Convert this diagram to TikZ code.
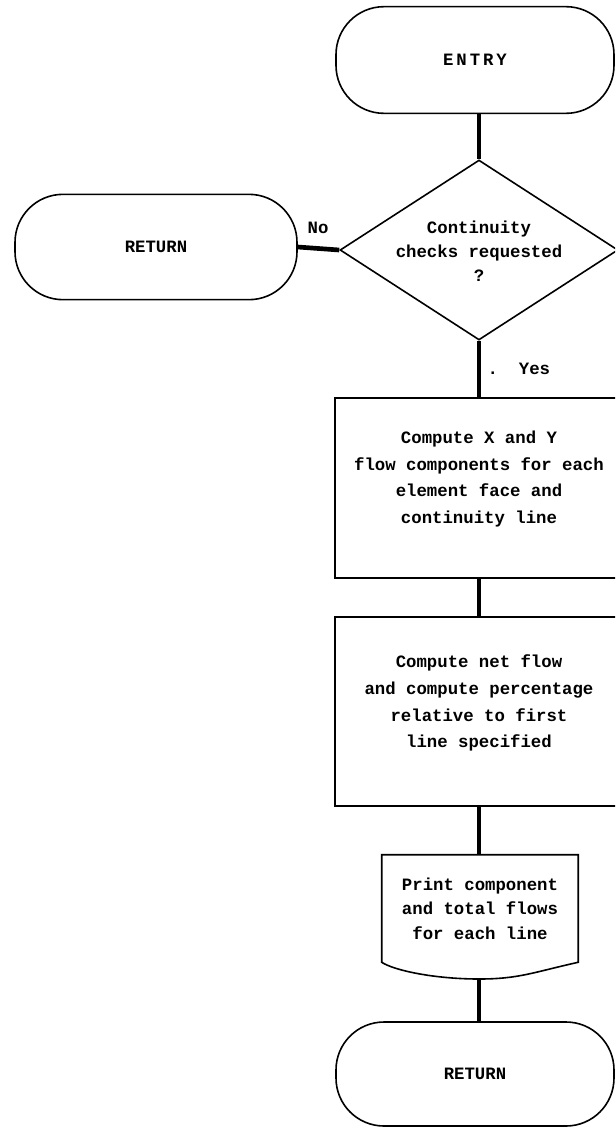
\documentclass[tikz,border=0pt]{standalone}
\usepackage{fontspec}
\setmonofont{Liberation Mono}
\usetikzlibrary{shapes.geometric}
\begin{document}
\begin{tikzpicture}[x=0.75pt,y=-0.75pt,
  every node/.style={font=\ttfamily\bfseries\fontsize{13}{20}\selectfont},
  term/.style={draw,line width=1.2pt,rounded corners=36pt,minimum width=208.5pt,minimum height=80pt,inner sep=0},
  proc/.style={draw,line width=1.2pt,minimum width=216pt,inner sep=0,align=center},
  flow/.style={line width=3.5pt}]
\useasboundingbox (0,0) rectangle (615,1129);
\clip (0,0) rectangle (615,1129);
% nodes
\node[term] (entry) at (475,60) {E\,N\,T\,R\,Y};
\node[draw,diamond,line width=1.2pt,minimum width=208.5pt,minimum height=135pt,inner sep=0] (dec) at (479,250) {};
\node[align=center,font=\ttfamily\bfseries\fontsize{13}{18}\selectfont] (dect) at (479,251) {Continuity\\checks requested\\?};
\node[term,minimum width=211.5pt,minimum height=79pt] (ret1) at (156,247) {RETURN};
\node[proc,minimum height=135pt] (box1) at (479,488) {Compute X and Y\\flow components for each\\element face and\\continuity line\\[-4pt]};
\node[proc,minimum height=141.75pt] (box2) at (479,711.5) {Compute net flow\\and compute percentage\\relative to first\\line specified\\[-5pt]};
\node[minimum width=147pt,minimum height=80.25pt,inner sep=0,align=center,font=\ttfamily\bfseries\fontsize{13}{18.5}\selectfont] (doc) at (480,908.5) {Print component\\and total flows\\for each line};
\coordinate (docb) at (479,979);
\draw[line width=1.2pt] (doc.south west) -- (doc.north west) -- (doc.north east) -- (doc.south east)
  .. controls +(-45,10) and +(40,0) .. (docb)
  .. controls +(-45,0) and +(12,8) .. (doc.south west) -- cycle;
\node[term,minimum height=78pt] (ret2) at (475,1074) {RETURN};
% connectors
\draw[flow] (entry.south -| dec.north) -- (dec.north);
\draw[flow] (dec.west) -- (ret1.east);
\node (no) at (318,228) {No};
\draw[flow] (dec.south) -- (dec.south |- box1.north);
\node[anchor=west] (yes) at (483,369) {.~~Yes};
\draw[flow] (box1.south) -- (box2.north);
\draw[flow] (box2.south) -- (box2.south |- doc.north);
\draw[flow] (docb) -- (docb |- ret2.north);
\end{tikzpicture}
\end{document}
